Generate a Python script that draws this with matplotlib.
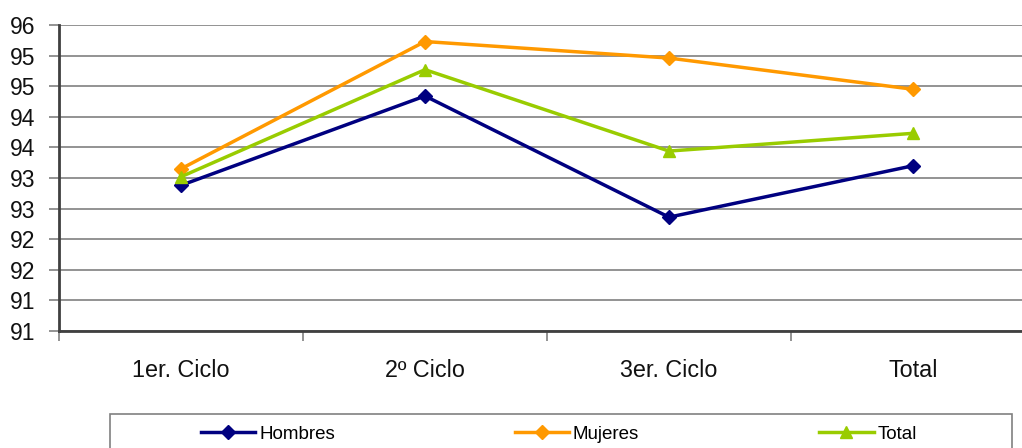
import matplotlib
matplotlib.use("Agg")
import matplotlib.pyplot as plt
from matplotlib.patches import Rectangle

categories = ["1er. Ciclo", "2º Ciclo", "3er. Ciclo", "Total"]
hombres = [93.38, 94.84, 92.86, 93.70]
mujeres = [93.65, 95.73, 95.46, 94.95]
total = [93.52, 95.27, 93.94, 94.23]
ytick_values = [96, 95.5, 95, 94.5, 94, 93.5, 93, 92.5, 92, 91.5, 91]
ytick_labels = ["96", "95", "95", "94", "94", "93", "93", "92", "92", "91", "91"]

plt.rcParams['font.family'] = ['Liberation Sans', 'DejaVu Sans']

W, H = 1022, 448
fig = plt.figure(figsize=(W / 100, H / 100), dpi=100)
ax = fig.add_axes([59 / W, 1 - 331 / H, (1035 - 59) / W, (331 - 25) / H])

x = list(range(len(categories)))
ax.plot(x, hombres, color="#000080", lw=2.5, marker="D", ms=7, label="Hombres", zorder=3)
ax.plot(x, mujeres, color="#FF9900", lw=2.5, marker="D", ms=7, label="Mujeres", zorder=3)
ax.plot(x, total, color="#99CC00", lw=2.5, marker="^", ms=8.5, label="Total", zorder=3)

ax.set_xlim(-0.5, len(categories) - 0.5)
ax.set_ylim(91, 96)
ax.set_yticks(ytick_values)
ax.set_yticklabels(ytick_labels)
ax.set_xticks(x)
ax.set_xticklabels(categories)
ax.set_xticks([i - 0.5 for i in x], minor=True)
ax.tick_params(axis="x", which="major", length=0, pad=20, labelsize=16.8, colors="#111111")
ax.tick_params(axis="x", which="minor", length=7, width=1.2, color="#808080")
ax.tick_params(axis="y", length=7, width=1.2, color="#808080", pad=10, labelsize=16.5, labelcolor="#111111")

ax.yaxis.grid(True, color="#808080", lw=1.2)
ax.set_axisbelow(True)
for s in ["top", "right"]:
    ax.spines[s].set_visible(False)
for s in ["left", "bottom"]:
    ax.spines[s].set_color("#404040")
    ax.spines[s].set_linewidth(2)

rect = Rectangle((110 / W, -0.05), (1012 - 110) / W, (448 - 414) / H + 0.05,
                 transform=fig.transFigure, fill=False, edgecolor="#808080", lw=1.2)
fig.add_artist(rect)

fig.legend(loc="center left", bbox_to_anchor=(201 / W, 1 - 434 / H), ncol=3,
           frameon=False, fontsize=13.5, handlelength=2.9, handletextpad=0.2,
           columnspacing=9.6, borderpad=0, borderaxespad=0)

fig.savefig("out.png", dpi=100)
